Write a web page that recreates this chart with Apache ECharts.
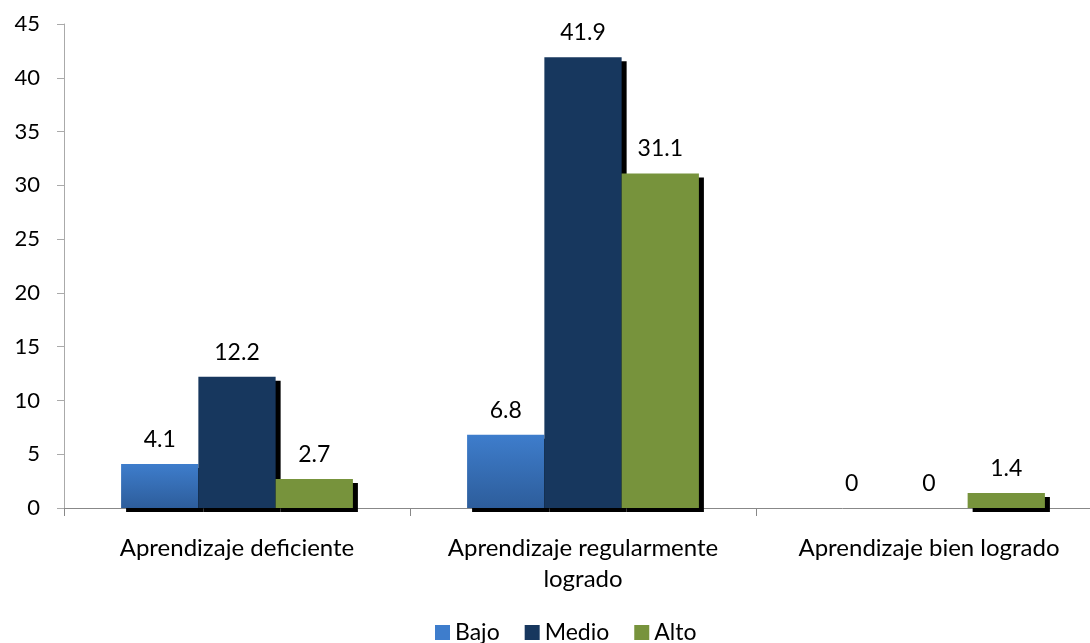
<!DOCTYPE html>
<html>
<head>
<meta charset="utf-8">
<script src="https://cdn.jsdelivr.net/npm/echarts@6/dist/echarts.min.js"></script>
<style>html,body{margin:0;padding:0;background:#fff;overflow:hidden;width:1090px;height:643px}#c{width:1102px;height:643px}</style>
</head>
<body>
<div id="c"></div>
<script>
const categories = ['Aprendizaje deficiente', 'Aprendizaje regularmente\nlogrado', 'Aprendizaje bien logrado'];
const seriesNames = ['Bajo', 'Medio', 'Alto'];
const bajo = [4.1, 6.8, 0];
const medio = [12.2, 41.9, 0];
const alto = [2.7, 31.1, 1.4];
const yTicks = {min: 0, max: 45, interval: 5};

const FONT = 'Lato';
const colors = [
  new echarts.graphic.LinearGradient(0, 0, 0, 1, [{offset: 0, color: '#3E7DCC'}, {offset: 1, color: '#2D5D9B'}]),
  '#17375E',
  '#77933C'
];
const legendColors = ['#3E7DCC', '#17375E', '#77933C'];
const values = [bajo, medio, alto];

const chart = echarts.init(document.getElementById('c'), null, {renderer: 'canvas'});
chart.setOption({
  animation: false,
  textStyle: {fontFamily: FONT},
  grid: {left: 64, top: 24, right: 0, bottom: 135, containLabel: false},
  legend: {
    top: 616, left: 430,
    itemWidth: 15, itemHeight: 15, itemGap: 25,
    textStyle: {fontFamily: FONT, fontSize: 23, color: '#000'},
    data: seriesNames.map((n, i) => ({name: n, icon: 'rect', itemStyle: {color: legendColors[i]}}))
  },
  xAxis: {
    type: 'category', data: categories,
    axisLine: {lineStyle: {color: '#888', width: 1}},
    axisTick: {show: true, length: 8, lineStyle: {color: '#888'}},
    axisLabel: {fontFamily: FONT, fontSize: 24, color: '#000', margin: 25, lineHeight: 31, interval: 0}
  },
  yAxis: {
    type: 'value', min: yTicks.min, max: yTicks.max, interval: yTicks.interval,
    splitLine: {show: false},
    axisLine: {show: true, lineStyle: {color: '#aaa'}},
    axisTick: {show: true, length: 7, lineStyle: {color: '#aaa'}},
    axisLabel: {fontFamily: FONT, fontSize: 22, color: '#000', margin: 24}
  },
  series: seriesNames.map((n, i) => ({
    name: n, type: 'bar', data: values[i],
    barGap: '0%', barCategoryGap: '33%',
    itemStyle: {color: colors[i], shadowColor: '#000', shadowBlur: 0, shadowOffsetX: 5, shadowOffsetY: 4},
    label: {show: true, position: 'top', distance: 13, fontFamily: FONT, fontSize: 23, color: '#000'}
  }))
});
</script>
</body>
</html>
